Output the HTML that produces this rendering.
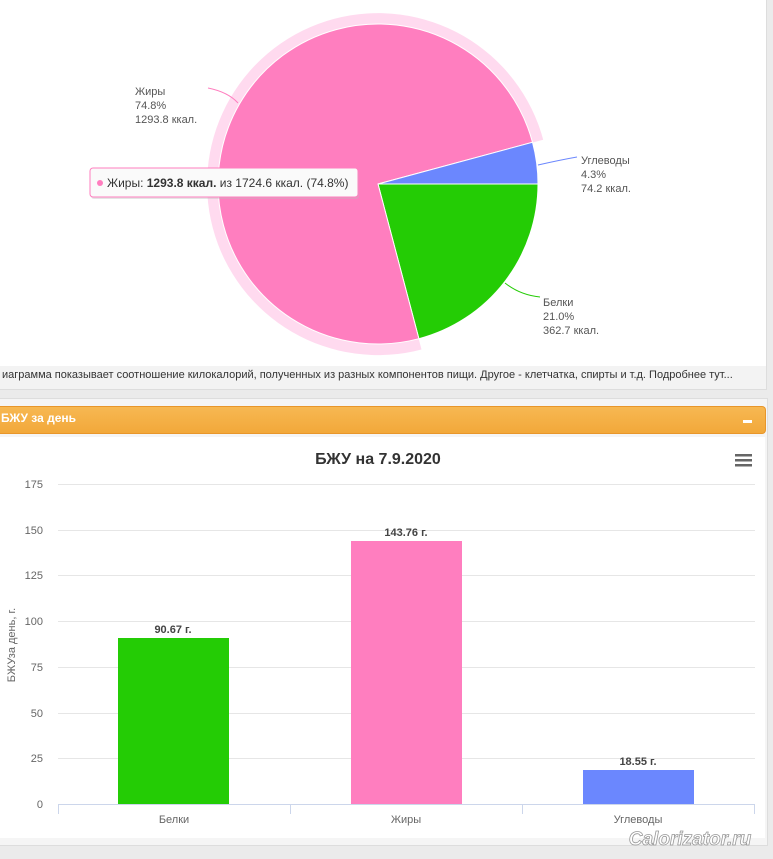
<!DOCTYPE html>
<html><head><meta charset="utf-8"><style>
body{margin:0;width:773px;height:859px;background:#ebebeb;font-family:"Liberation Sans",sans-serif;position:relative;overflow:hidden}
.p{position:absolute}
</style></head><body>
<div class="p" style="left:0;top:0;width:766px;height:389px;background:#f3f3f3;border-right:1px solid #ddd;border-bottom:1px solid #ddd"></div>
<div class="p" style="left:0;top:0;width:766px;height:366px;background:#fff"></div>
<div class="p" style="left:2px;top:369px;font-size:11px;color:#333;white-space:nowrap">иаграмма показывает соотношение килокалорий, полученных из разных компонентов пищи. Другое - клетчатка, спирты и т.д. Подробнее тут...</div>
<div class="p" style="left:0;top:398px;width:767px;height:446px;background:#f5f5f5;border:1px solid #ddd;border-left:none"></div>
<div class="p" style="left:0;top:406px;width:765px;height:26px;background:linear-gradient(#f7b852,#f2a83a);border:1px solid #e8962a;border-left:none;border-radius:0 4px 4px 0"></div>
<div class="p" style="left:1px;top:411px;font-size:12px;font-weight:bold;color:#fff">БЖУ за день</div>
<div class="p" style="left:743px;top:420px;width:9px;height:3px;background:#fff"></div>
<div class="p" style="left:0;top:437px;width:765px;height:401px;background:#fff"></div>
<svg class="p" style="left:0;top:0" width="773" height="859" font-family="Liberation Sans, sans-serif">
<path d="M378,184 L421.5,349.5 A171,171 0 1 1 543.2,139.7 Z" fill="#ffdaef"/>
<path d="M378,184 L538,184 A160,160 0 0 1 418.9,338.7 Z" fill="#24cc05" stroke="#fff" stroke-width="1"/>
<path d="M378,184 L418.9,338.7 A160,160 0 1 1 532.5,142.3 Z" fill="#ff7ebf" stroke="#fff" stroke-width="1"/>
<path d="M378,184 L532.5,142.3 A160,160 0 0 1 538,184 Z" fill="#6b87fe" stroke="#fff" stroke-width="1"/>
<path d="M208,88 Q228,92 238,103" fill="none" stroke="#ff7ebf"/>
<path d="M577,157 Q560,160 538,165" fill="none" stroke="#6b87fe"/>
<path d="M540,297 Q520,295 505,283" fill="none" stroke="#24cc05"/>
<g font-size="11" fill="#555">
<text x="135" y="95">Жиры</text><text x="135" y="109">74.8%</text><text x="135" y="123">1293.8 ккал.</text>
<text x="581" y="164">Углеводы</text><text x="581" y="178">4.3%</text><text x="581" y="192">74.2 ккал.</text>
<text x="543" y="306">Белки</text><text x="543" y="320">21.0%</text><text x="543" y="334">362.7 ккал.</text>
</g>
<rect x="91" y="170" width="268" height="29" fill="#bbb" opacity="0.4" rx="3"/>
<rect x="90" y="168" width="268" height="29" fill="#fafafa" stroke="#ff7ebf" rx="3"/>
<circle cx="100" cy="183" r="3" fill="#ff7ebf"/>
<text x="107" y="187" font-size="12" fill="#333">Жиры: <tspan font-weight="bold">1293.8 ккал.</tspan> из 1724.6 ккал. (74.8%)</text>
<text x="378" y="464" font-size="16" font-weight="bold" fill="#333" text-anchor="middle">БЖУ на 7.9.2020</text>
<g fill="#666"><rect x="735" y="454" width="17" height="2.5"/><rect x="735" y="459" width="17" height="2.5"/><rect x="735" y="464" width="17" height="2.5"/></g>
<g stroke="#e6e6e6">
<line x1="58" x2="755" y1="484.5" y2="484.5"/><line x1="58" x2="755" y1="530.5" y2="530.5"/><line x1="58" x2="755" y1="575.5" y2="575.5"/><line x1="58" x2="755" y1="621.5" y2="621.5"/><line x1="58" x2="755" y1="667.5" y2="667.5"/><line x1="58" x2="755" y1="713.5" y2="713.5"/><line x1="58" x2="755" y1="758.5" y2="758.5"/>
</g>
<g font-size="11" fill="#666" text-anchor="end">
<text x="43" y="488">175</text><text x="43" y="534">150</text><text x="43" y="579">125</text><text x="43" y="625">100</text><text x="43" y="671">75</text><text x="43" y="717">50</text><text x="43" y="762">25</text><text x="43" y="808">0</text>
</g>
<text transform="translate(15,645) rotate(-90)" font-size="11" fill="#666" text-anchor="middle">БЖУза день, г.</text>
<rect x="118" y="638" width="111" height="166" fill="#24cc05"/>
<rect x="351" y="541" width="111" height="263" fill="#ff7ebf"/>
<rect x="583" y="770" width="111" height="34" fill="#6b87fe"/>
<g stroke="#ccd6eb"><line x1="58" x2="755" y1="804.5" y2="804.5"/>
<line x1="58.5" x2="58.5" y1="804" y2="814"/><line x1="290.5" x2="290.5" y1="804" y2="814"/><line x1="522.5" x2="522.5" y1="804" y2="814"/><line x1="754.5" x2="754.5" y1="804" y2="814"/></g>
<g font-size="11" font-weight="bold" fill="#444" text-anchor="middle">
<text x="173" y="633">90.67 г.</text><text x="406" y="536">143.76 г.</text><text x="638" y="765">18.55 г.</text></g>
<g font-size="11" fill="#666" text-anchor="middle">
<text x="174" y="823">Белки</text><text x="406" y="823">Жиры</text><text x="638" y="823">Углеводы</text></g>
<text x="690" y="845" font-size="19" font-weight="bold" font-style="italic" fill="#fff" stroke="#999" stroke-width="0.8" text-anchor="middle">Calorizator.ru</text>
</svg>
</body></html>
